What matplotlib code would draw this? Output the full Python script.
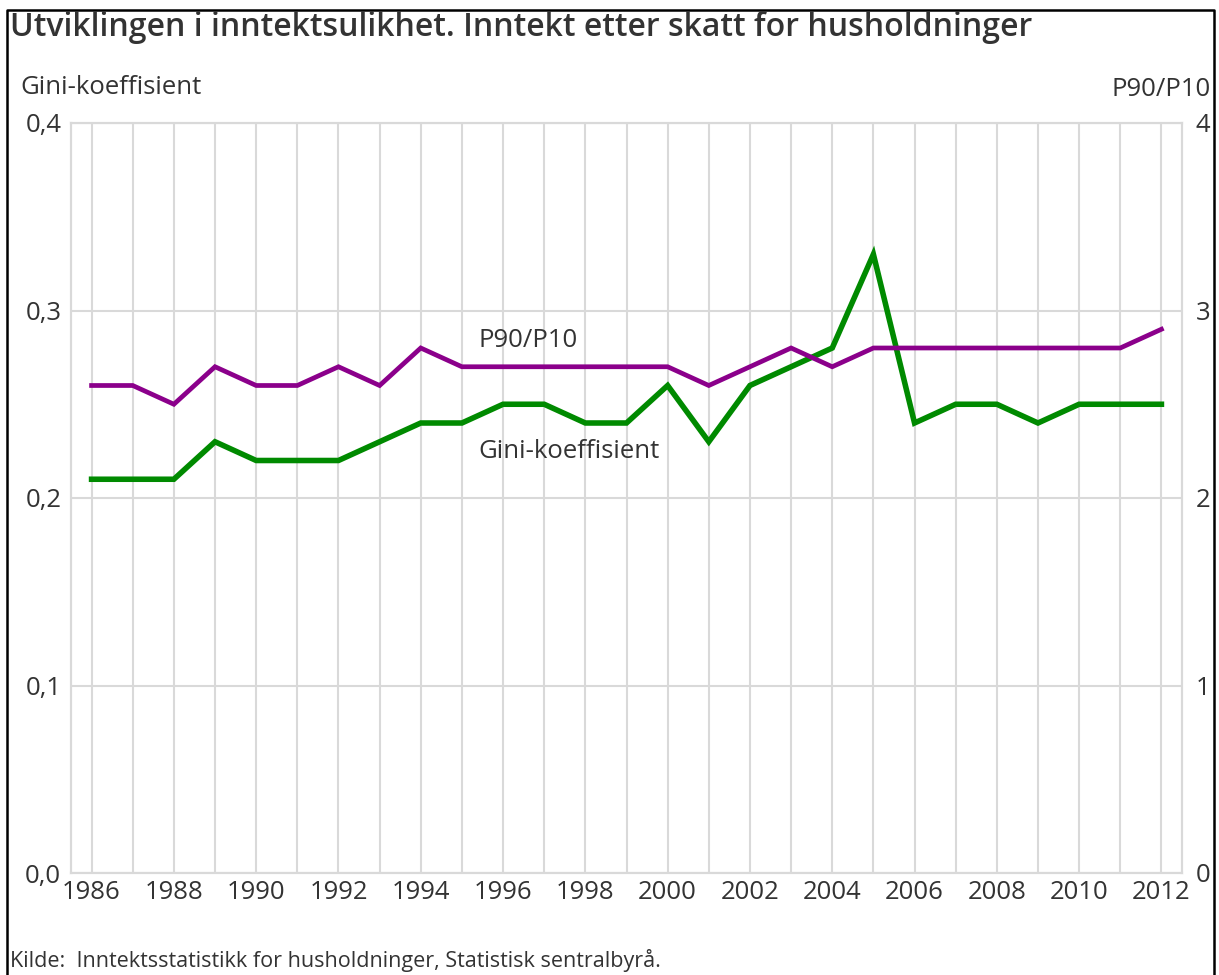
import matplotlib
matplotlib.use("Agg")
import matplotlib.pyplot as plt
from matplotlib.ticker import FixedLocator

plt.rcParams['font.family'] = ['Open Sans', 'DejaVu Sans']

years = list(range(1986, 2013))
gini = [0.21, 0.21, 0.21, 0.23, 0.22, 0.22, 0.22, 0.23, 0.24, 0.24,
        0.25, 0.25, 0.24, 0.24, 0.26, 0.23, 0.26, 0.27, 0.28, 0.33,
        0.24, 0.25, 0.25, 0.24, 0.25, 0.25, 0.25]
p90p10 = [2.6, 2.6, 2.5, 2.7, 2.6, 2.6, 2.7, 2.6, 2.8, 2.7,
          2.7, 2.7, 2.7, 2.7, 2.7, 2.6, 2.7, 2.8, 2.7, 2.8,
          2.8, 2.8, 2.8, 2.8, 2.8, 2.8, 2.9]
left_ticks = [0.0, 0.1, 0.2, 0.3, 0.4]
left_labels = ["0,0", "0,1", "0,2", "0,3", "0,4"]
right_ticks = [0, 1, 2, 3, 4]
right_labels = ["0", "1", "2", "3", "4"]
xtick_years = list(range(1986, 2013, 2))

title = "Utviklingen i inntektsulikhet. Inntekt etter skatt for husholdninger"
source = "Kilde:  Inntektsstatistikk for husholdninger, Statistisk sentralbyrå."

TXT = '#333333'
GRID = '#d9d9d9'
GREEN = '#008a00'
PURPLE = '#8b008b'

fig = plt.figure(figsize=(12.19, 9.75), dpi=100)
ax = fig.add_axes([71/1219, 1-873/975, (1182-71)/1219, (873-123)/975])
ax2 = ax.twinx()

ax.set_xlim(1985.5, 2012.5)
ax.set_ylim(0, 0.4)
ax2.set_ylim(0, 4)

ax.xaxis.set_minor_locator(FixedLocator(years))
ax.set_xticks(xtick_years)
ax.set_xticklabels([str(y) for y in xtick_years])
ax.grid(True, which='minor', axis='x', color=GRID, lw=1.5)
ax.grid(True, which='major', axis='x', color=GRID, lw=1.5)
ax.set_yticks(left_ticks)
ax.set_yticklabels(left_labels)
ax.grid(True, which='major', axis='y', color=GRID, lw=1.5)
ax.set_axisbelow(True)

ax2.set_yticks(right_ticks)
ax2.set_yticklabels(right_labels)

for a in (ax, ax2):
    for s in a.spines.values():
        s.set_color(GRID)
        s.set_linewidth(1.5)
    a.tick_params(which='both', length=0, labelsize=18.5, colors=TXT)
ax.tick_params(axis='x', pad=5)
ax.tick_params(axis='y', pad=7)
ax2.tick_params(axis='y', pad=10)

ax.plot(years, gini, color=GREEN, lw=4, solid_joinstyle='miter', zorder=3)
ax2.plot(years, p90p10, color=PURPLE, lw=3.4, solid_joinstyle='miter', zorder=3)

ax.text(1995.4, 0.284, "P90/P10", fontsize=18.5, color=TXT, va='center', ha='left')
ax.text(1995.4, 0.225, "Gini-koeffisient", fontsize=18.5, color=TXT, va='center', ha='left')

fig.text(20/1219, 1-88/975, "Gini-koeffisient", fontsize=18.5, color=TXT, va='center', ha='left')
fig.text(1211/1219, 1-90/975, "P90/P10", fontsize=18.5, color=TXT, va='center', ha='right')

fig.text(10/1219, 1-28/975, title, fontsize=23, color=TXT, va='center', ha='left', fontweight='semibold')
fig.text(10/1219, 3/975, source, fontsize=15.5, color=TXT, va='bottom', ha='left')

frame = plt.Line2D([7/1219, 7/1219, 1214/1219, 1214/1219], [0, 1-10/975, 1-10/975, 0],
                   transform=fig.transFigure, color='black', lw=1.8)
fig.add_artist(frame)

fig.savefig("out.png", dpi=100)
